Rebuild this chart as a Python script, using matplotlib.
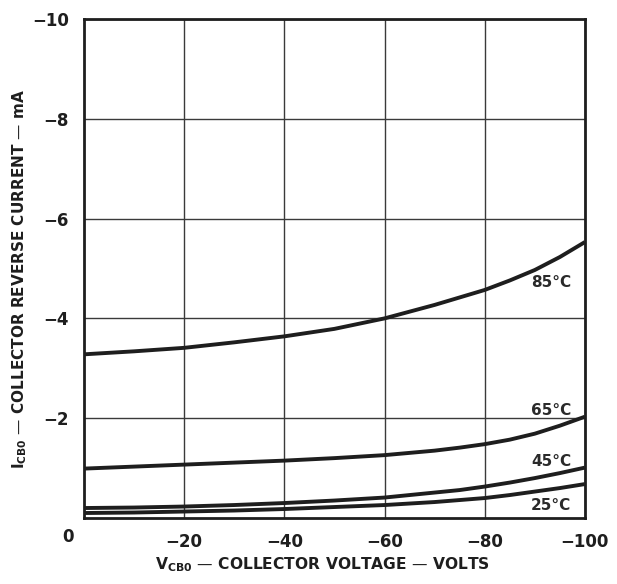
import matplotlib
matplotlib.use('Agg')
import matplotlib.pyplot as plt

# collector voltage (V) and reverse current (mA)
volts = [0, -10, -20, -30, -40, -50, -60, -70, -75, -80, -85, -90, -95, -100]
i_85c = [-3.28, -3.34, -3.41, -3.52, -3.64, -3.79, -4.00, -4.27, -4.42, -4.57,
         -4.76, -4.97, -5.23, -5.53]
i_65c = [-0.99, -1.03, -1.07, -1.11, -1.15, -1.20, -1.26, -1.35, -1.41, -1.48,
         -1.57, -1.69, -1.85, -2.03]
i_45c = [-0.20, -0.21, -0.23, -0.26, -0.30, -0.35, -0.41, -0.51, -0.56, -0.63,
         -0.71, -0.80, -0.90, -1.01]
i_25c = [-0.10, -0.11, -0.13, -0.15, -0.18, -0.22, -0.26, -0.32, -0.36, -0.40,
         -0.46, -0.53, -0.60, -0.68]

curve_labels = ['85°C', '65°C', '45°C', '25°C']
label_v = -93.3
label_i = [-4.71, -2.16, -1.13, -0.25]

xticks = [-20, -40, -60, -80, -100]
yticks = [-2, -4, -6, -8, -10]

plt.rcParams['font.family'] = ['DejaVu Sans']
plt.rcParams['mathtext.fontset'] = 'dejavusans'

ink = '#1e1e1e'
fig = plt.figure(figsize=(6.17, 5.84), dpi=100)
ax = fig.add_axes([0.136, 0.113, 0.812, 0.8545])

for curve in [i_85c, i_65c, i_45c, i_25c]:
    ax.plot(volts, curve, color=ink, lw=2.8, solid_capstyle='butt',
            solid_joinstyle='round', zorder=3)

for name, y in zip(curve_labels, label_i):
    ax.text(label_v, y, name, ha='center', va='center', fontsize=11,
            fontweight='bold', color='#2a2a2a', zorder=4)

ax.set_xlim(0, -100)
ax.set_ylim(0, -10)
ax.set_xticks(xticks)
ax.set_yticks(yticks)
ax.set_xticklabels(['\u2212%d' % abs(v) for v in xticks])
ax.set_yticklabels(['\u2212%d' % abs(v) for v in yticks])
ax.tick_params(length=0, labelsize=12, colors=ink)
ax.tick_params(axis='x', pad=11)
ax.tick_params(axis='y', pad=11)
for lab in ax.get_xticklabels() + ax.get_yticklabels():
    lab.set_fontweight('bold')

# shared origin label
ax.text(-0.032, -0.038, '0', transform=ax.transAxes, ha='center', va='center',
        fontsize=12, fontweight='bold', color=ink)

ax.grid(True, color='#3a3a3a', lw=1.0)
ax.set_axisbelow(True)
for s in ax.spines.values():
    s.set_linewidth(2.0)
    s.set_color(ink)

ax.set_xlabel(r'$\mathbf{V_{CB0}}$ — COLLECTOR VOLTAGE — VOLTS', fontsize=11.2,
              fontweight='bold', color=ink, va='center')
ax.xaxis.set_label_coords(0.477, -0.094)
ax.set_ylabel(r'$\mathbf{I_{CB0}}$ — COLLECTOR REVERSE CURRENT — mA', fontsize=11,
              fontweight='bold', color=ink, va='center')
ax.yaxis.set_label_coords(-0.128, 0.48)

fig.savefig('out.png', dpi=100, facecolor='white')
